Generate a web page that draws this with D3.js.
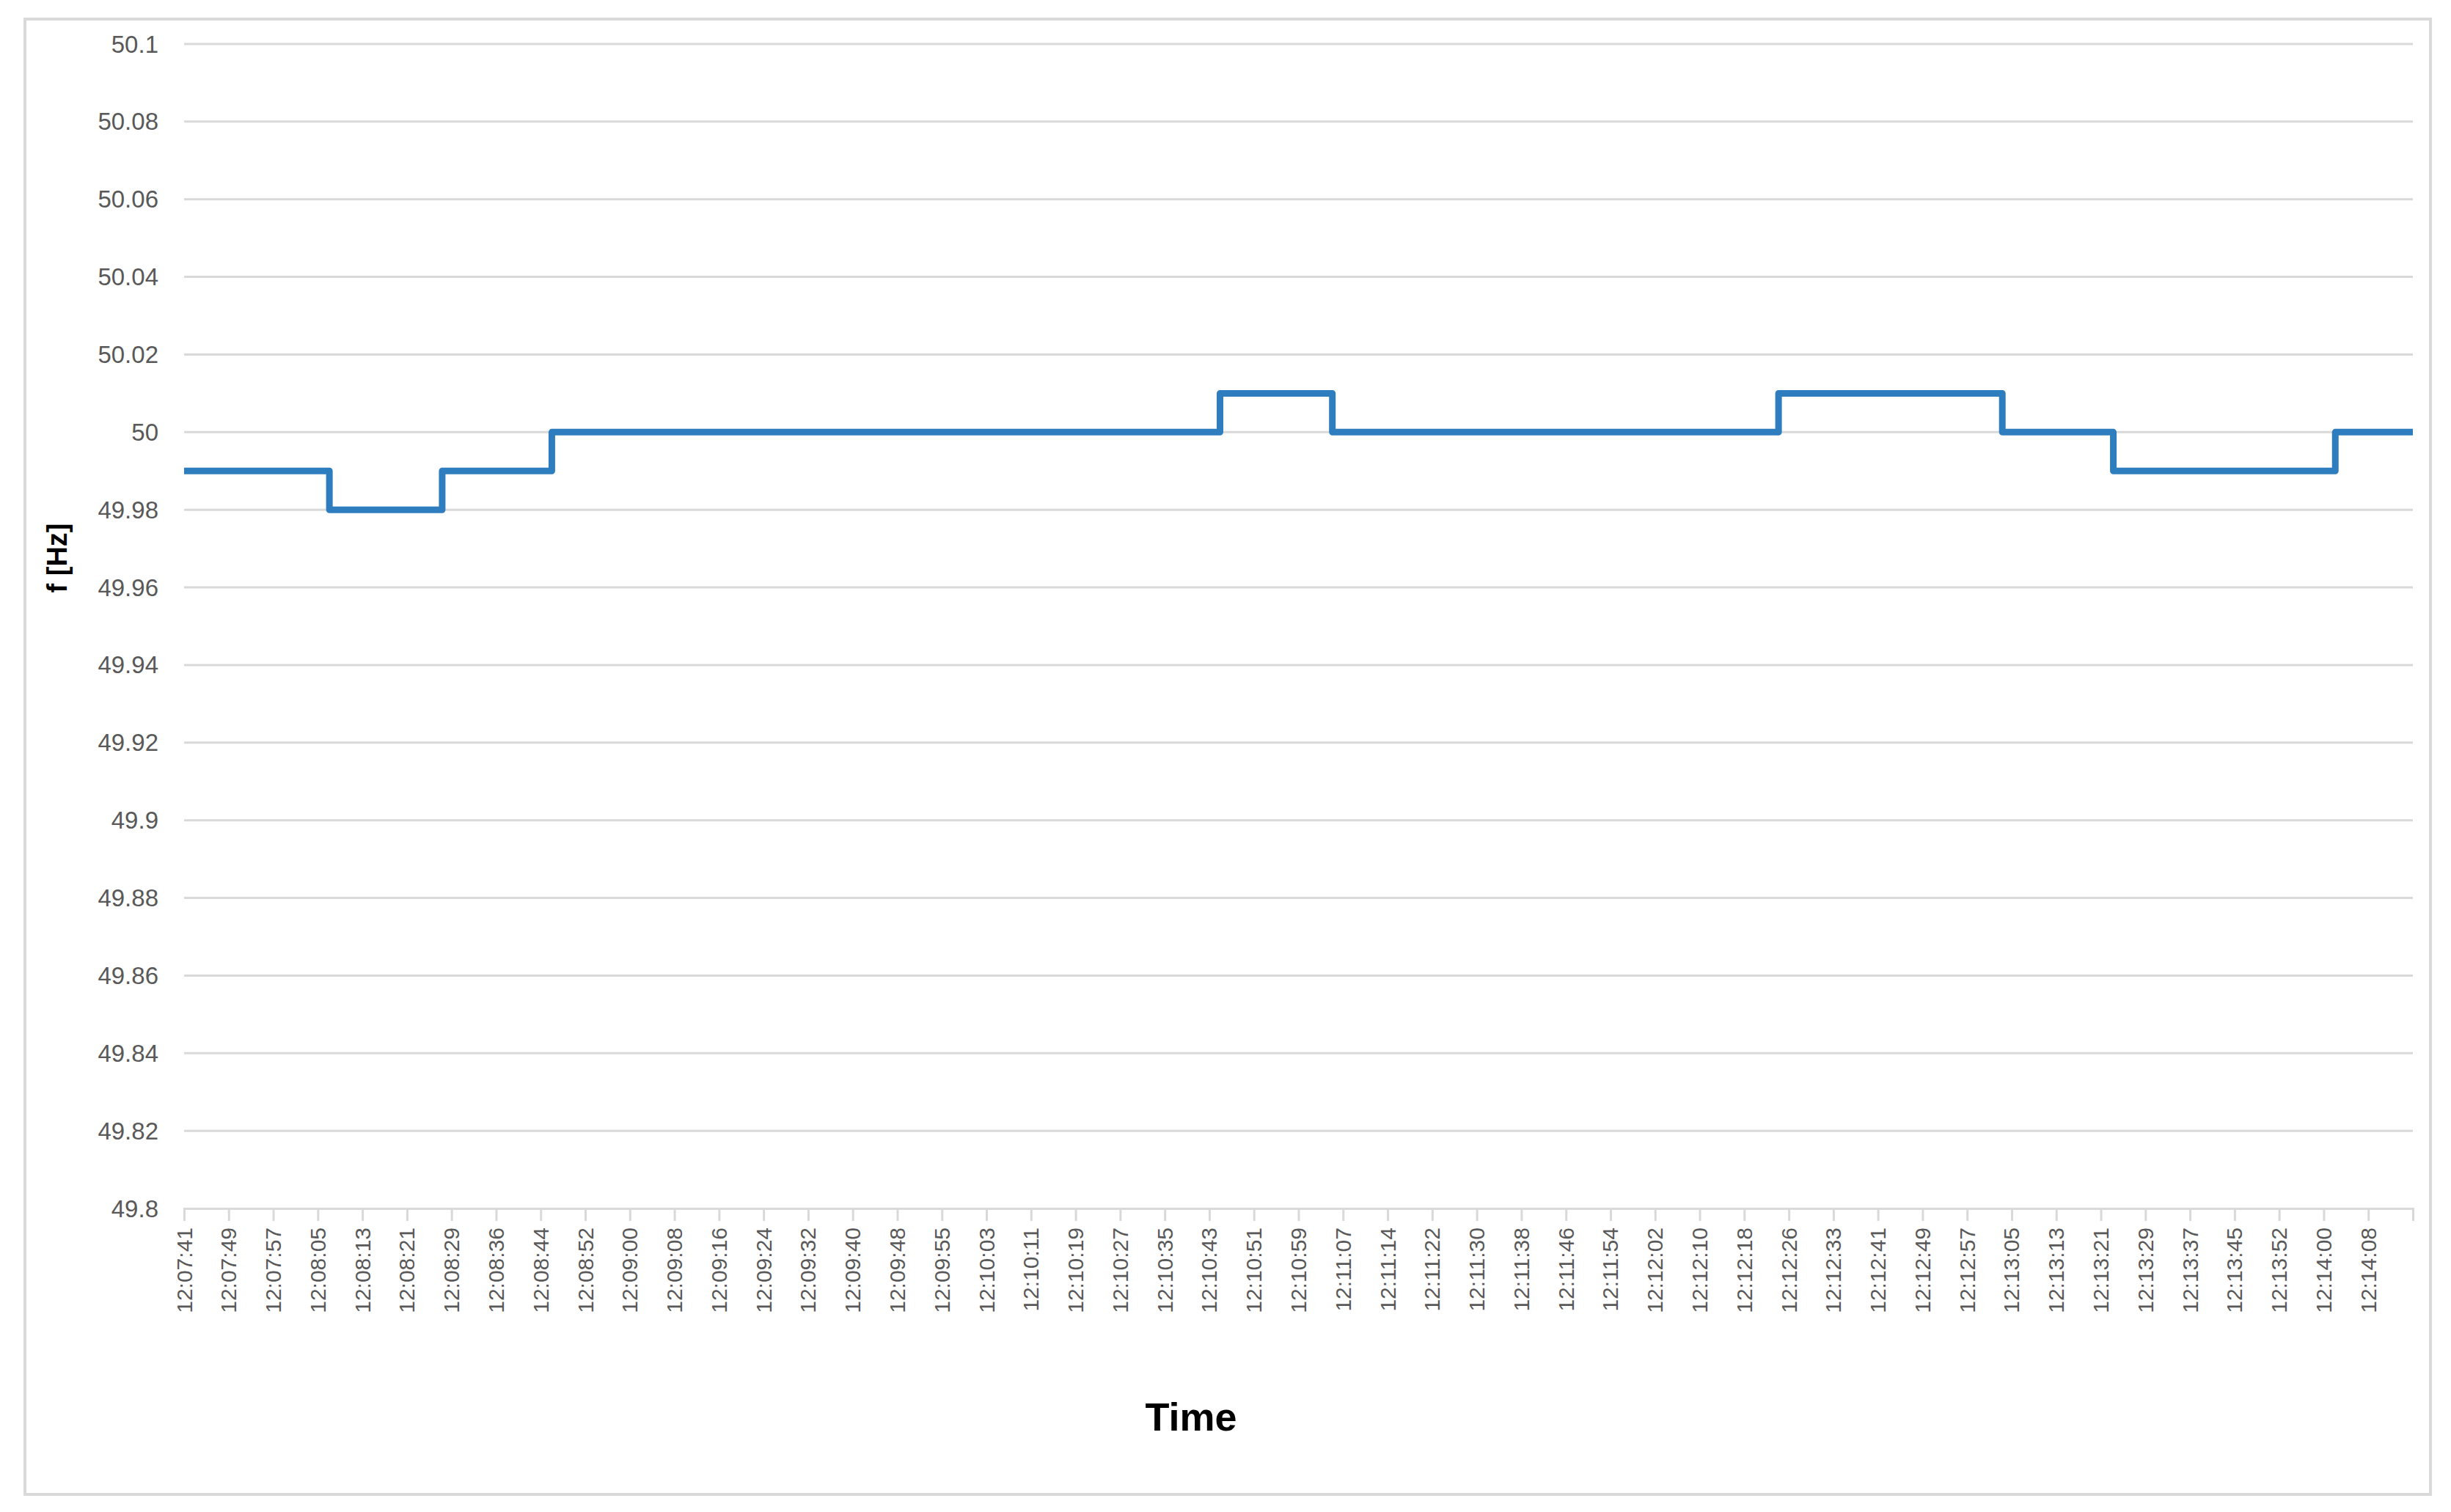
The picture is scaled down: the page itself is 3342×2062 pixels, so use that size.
<!DOCTYPE html>
<html><head><meta charset="utf-8">
<script src="https://cdn.jsdelivr.net/npm/d3@7"></script>
<style>body{margin:0;background:#fff}text{font-family:"Liberation Sans",Arial,sans-serif}</style>
</head><body>
<svg id="c" width="3342" height="2062"></svg>
<script>
const timeLabels = ["12:07:41","12:07:49","12:07:57","12:08:05","12:08:13","12:08:21","12:08:29","12:08:36","12:08:44","12:08:52",
"12:09:00","12:09:08","12:09:16","12:09:24","12:09:32","12:09:40","12:09:48","12:09:55","12:10:03","12:10:11",
"12:10:19","12:10:27","12:10:35","12:10:43","12:10:51","12:10:59","12:11:07","12:11:14","12:11:22","12:11:30",
"12:11:38","12:11:46","12:11:54","12:12:02","12:12:10","12:12:18","12:12:26","12:12:33","12:12:41","12:12:49",
"12:12:57","12:13:05","12:13:13","12:13:21","12:13:29","12:13:37","12:13:45","12:13:52","12:14:00","12:14:08"];
// step breakpoints (position in label units) and frequency from that point on
const stepPos  = [0, 3.26, 5.79, 8.25, 23.24, 25.76, 35.77, 40.79, 43.28, 48.26, 50];
const stepFreq = [49.99, 49.98, 49.99, 50.00, 50.01, 50.00, 50.01, 50.00, 49.99, 50.00, 50.00];
const yTicks = [49.8,49.82,49.84,49.86,49.88,49.9,49.92,49.94,49.96,49.98,50,50.02,50.04,50.06,50.08,50.1];

const svg = d3.select("#c");
const L=251, R=3290, T=60, B=1648;
svg.append("rect").attr("x",34).attr("y",26).attr("width",3280).attr("height",2012)
  .attr("fill","#fff").attr("stroke","#d9d9d9").attr("stroke-width",4);
const x = d3.scaleLinear().domain([0,timeLabels.length]).range([L,R]);
const y = d3.scaleLinear().domain([49.8,50.1]).range([B,T]);

svg.append("g").selectAll("line").data(yTicks.slice(1)).join("line")
  .attr("x1",L).attr("x2",R).attr("y1",d=>y(d)).attr("y2",d=>y(d))
  .attr("stroke","#d9d9d9").attr("stroke-width",3);
svg.append("g").selectAll("text").data(yTicks).join("text")
  .attr("x",216).attr("y",d=>y(d)).attr("dy","0.35em").attr("text-anchor","end")
  .attr("font-size",33).attr("fill","#595959").text(d=>d3.format("")(+d.toFixed(2)));
const xa = d3.axisBottom(x).tickValues(d3.range(0,timeLabels.length+1)).tickSize(17).tickFormat("");
const gx = svg.append("g").attr("transform",`translate(0,${B})`).call(xa);
gx.select(".domain").attr("stroke","#d9d9d9").attr("stroke-width",3);
gx.selectAll(".tick line").attr("stroke","#d9d9d9").attr("stroke-width",3);
svg.append("g").selectAll("text").data(timeLabels).join("text")
  .attr("transform",(d,i)=>`translate(${x(i)},${B+26}) rotate(-90)`)
  .attr("dy","0.35em").attr("text-anchor","end").attr("font-size",30).attr("fill","#595959").text(d=>d);

const pts = stepPos.map((p,i)=>[p,stepFreq[i]]);
svg.append("path").datum(pts)
  .attr("d", d3.line().x(d=>x(d[0])).y(d=>y(d[1])).curve(d3.curveStepAfter))
  .attr("fill","none").attr("stroke","#2e7dbf").attr("stroke-width",9).attr("stroke-linejoin","round");

svg.append("text").attr("transform","translate(78,761) rotate(-90)").attr("text-anchor","middle")
  .attr("dy","0.35em").attr("font-size",38).attr("font-weight","bold").attr("fill","#000").text("f [Hz]");
svg.append("text").attr("x",1624).attr("y",1932).attr("text-anchor","middle").attr("dy","0.35em")
  .attr("font-size",54).attr("font-weight","bold").attr("fill","#000").text("Time");
</script>
</body></html>
